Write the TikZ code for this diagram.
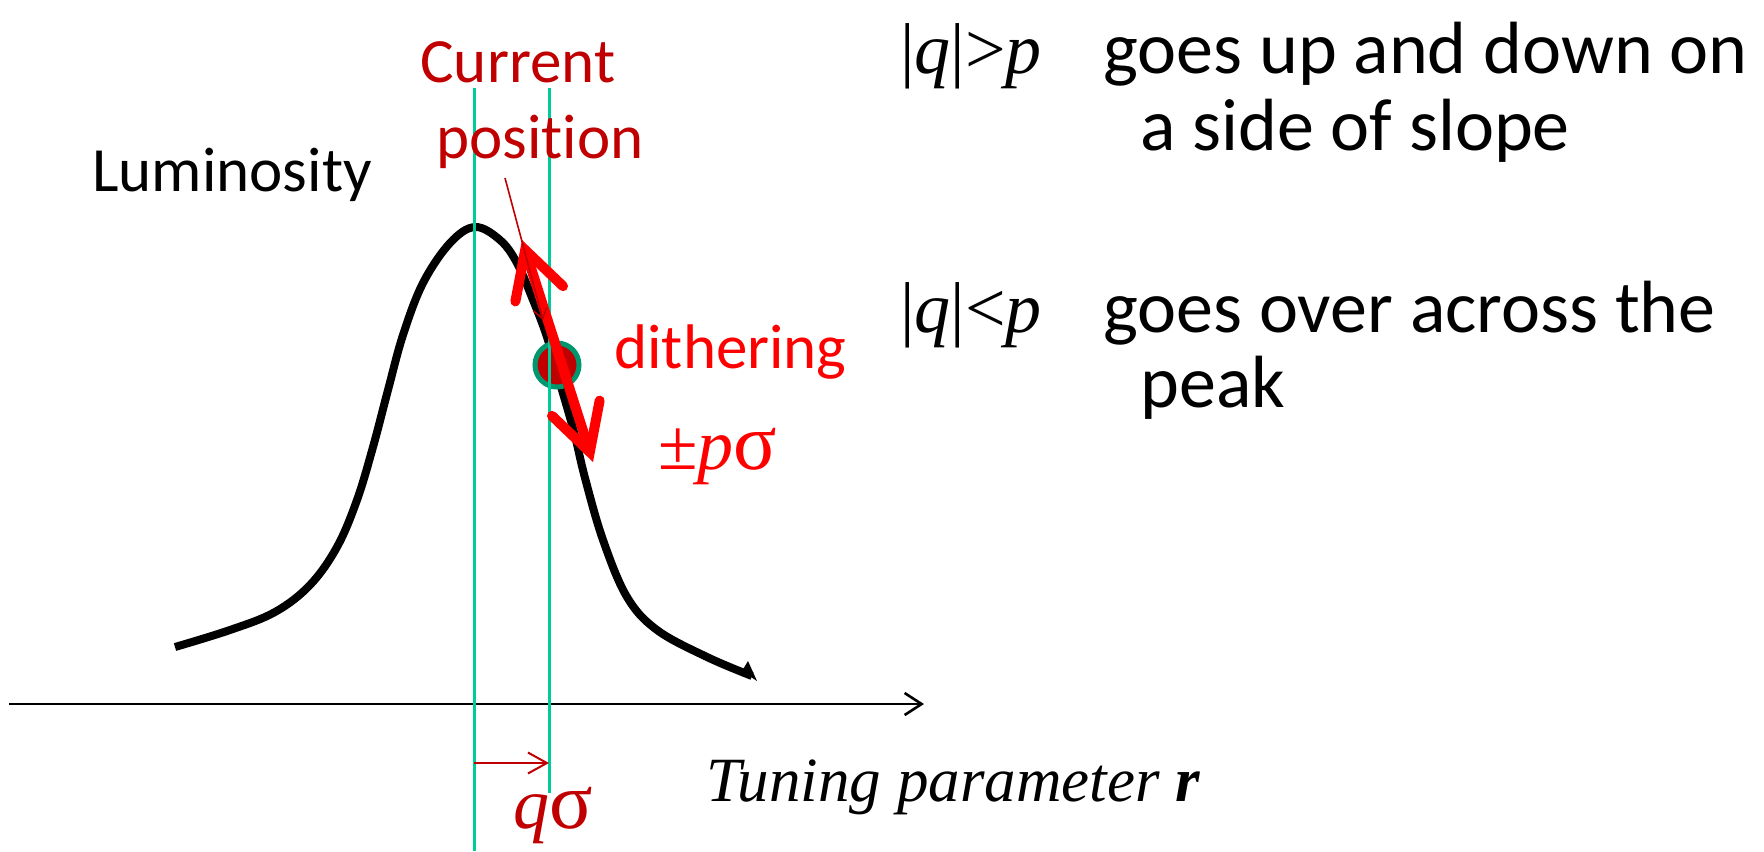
\documentclass[tikz,border=0pt]{standalone}
\usepackage{fontspec}
\setmainfont{Carlito}[Ligatures=NoCommon]
\newfontfamily\tms{Liberation Serif}
\usetikzlibrary{arrows.meta}
\definecolor{guidecol}{RGB}{0,204,153}
\definecolor{dotedge}{RGB}{0,150,110}
\definecolor{darkred}{RGB}{192,0,0}
\definecolor{brightred}{RGB}{255,0,0}
\tikzset{
  txt/.style={inner sep=0pt, anchor=base west},
  fsmall/.style={font=\fontsize{31.5}{38}\selectfont},
  fbig/.style={font=\fontsize{37}{44}\selectfont},
  guide/.style={draw=guidecol, line width=1.5pt},
  lumcurve/.style={line width=4pt, line join=round},
  dither/.style={draw=brightred, line width=5pt,
    {Straight Barb[length=23pt, width=25pt, line cap=round]}-{Straight Barb[length=23pt, width=25pt, line cap=round]}},
  dotst/.style={circle, inner sep=0pt, minimum size=22pt, fill=darkred, draw=dotedge, line width=2.5pt},
  pointer/.style={draw=darkred, line width=0.8pt, -{Straight Barb[length=5pt, width=7pt]}},
  axisst/.style={draw=black, line width=1.3pt, -{Straight Barb[length=8.5pt, width=11pt]}},
  shiftarr/.style={draw=darkred, line width=1pt, -{Straight Barb[length=9.5pt, width=10.5pt]}}
}
\begin{document}
\begin{tikzpicture}[x=0.5pt, y=-0.5pt]
\useasboundingbox (0,0) rectangle (1764,851);

% axis
\coordinate (ax0) at (9,704);
\coordinate (ax1) at (924,704);
\draw[axisst] (ax0) -- (ax1);

% luminosity curve
\draw[lumcurve] plot[smooth, tension=0.6] coordinates {
  (175,647) (230,630) (275,612) (310,585) (337,547) (357,500) (373,447) (388,390) (403,335)
  (423,283) (450,243) (475,227) (500,240) (517,263) (533,300) (547,337)
  (560,383) (574,432) (585,478) (603,540) (627,597) (657,630) (707,657) (752,676)};
\fill (742,671) -- (748,661) -- (757,681) -- cycle;

% current position dot
\node[dotst] (cur) at (557,365) {};

% guide lines
\coordinate (gL1) at (474,88);
\coordinate (gL2) at (474,851);
\coordinate (gR1) at (549,88);
\coordinate (gR2) at (549,793);
\draw[guide] (gL1) -- (gL2);
\draw[guide] (gR1) -- (gR2);

% dithering double arrow
\coordinate (dA) at (522,240);
\coordinate (dB) at (593,462);
\draw[dither] (dA) -- (dB);

% pointer from label
\coordinate (ptrS) at (505,178);
\coordinate (ptrE) at (543,320);
\draw[pointer] (ptrS) -- (ptrE);

% shift arrow below axis
\coordinate (sA) at (474,763);
\coordinate (sB) at (549,763);
\draw[shiftarr] (sA) -- (sB);

% labels
\node[txt, fsmall] (lum) at (92,191) {Luminosity};
\node[txt, fsmall, text=darkred] (curA) at (420,82) {Current};
\node[txt, fsmall, text=darkred] (curB) at (436,158) {position};
\node[txt, fsmall, text=brightred] (dith) at (614,368) {dithering};
\node[txt, font=\fontsize{36}{43}\selectfont\tms, text=brightred] (pm) at (658,469) {±\textit{p}\scalebox{1.12}{σ}};
\node[txt, font=\fontsize{36}{43}\selectfont\tms, text=darkred] (qs) at (513,828) {\textit{q}\scalebox{1.12}{σ}};
\node[txt, font=\fontsize{31.5}{38}\selectfont\tms\itshape] (tun) at (706,801) {Tuning parameter \textbf{r}};

\node[txt, font=\fontsize{36}{43}\selectfont\tms] (c1) at (900,73) {|\textit{q}|>\textit{p}};
\node[txt, fbig] (t1) at (1103,73) {goes up and down on};
\node[txt, fbig] (t2) at (1140,150) {a side of slope};
\node[txt, font=\fontsize{36}{43}\selectfont\tms] (c2) at (900,332) {|\textit{q}|<\textit{p}};
\node[txt, fbig] (t3) at (1103,332) {goes over across the};
\node[txt, fbig] (t4) at (1140,407) {peak};
\end{tikzpicture}
\end{document}
